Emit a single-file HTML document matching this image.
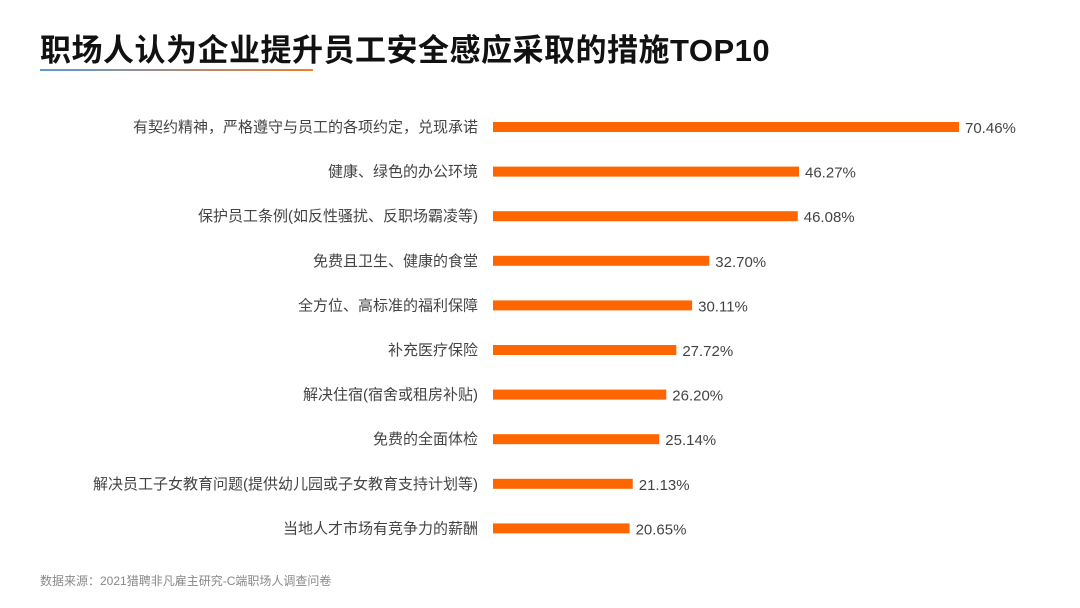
<!DOCTYPE html>
<html><head><meta charset="utf-8"><style>
body{margin:0;background:#fff;width:1080px;height:608px;overflow:hidden;font-family:"Liberation Sans","Noto Sans CJK SC",sans-serif}
#title{position:absolute;left:40px;top:25px;font-size:31px;font-weight:bold;color:#111;white-space:nowrap;letter-spacing:0.5px}
#uline{position:absolute;left:40px;top:69px;width:273px;height:2px;background:linear-gradient(90deg,#5b9bd5,#f07f2d)}
#src{position:absolute;left:40px;top:572px;font-size:12px;color:#888}
</style></head><body>
<div id="title">职场人认为企业提升员工安全感应采取的措施TOP10</div>
<div id="uline"></div>
<svg id="chart" width="1080" height="608" style="position:absolute;left:0;top:0"></svg>
<div id="src">数据来源：2021猎聘非凡雇主研究-C端职场人调查问卷</div>
<script>
const categories=["有契约精神，严格遵守与员工的各项约定，兑现承诺","健康、绿色的办公环境","保护员工条例(如反性骚扰、反职场霸凌等)","免费且卫生、健康的食堂","全方位、高标准的福利保障","补充医疗保险","解决住宿(宿舍或租房补贴)","免费的全面体检","解决员工子女教育问题(提供幼儿园或子女教育支持计划等)","当地人才市场有竞争力的薪酬"];
const values=[70.46,46.27,46.08,32.70,30.11,27.72,26.20,25.14,21.13,20.65];
const labels=["70.46%","46.27%","46.08%","32.70%","30.11%","27.72%","26.20%","25.14%","21.13%","20.65%"];
const NS="http://www.w3.org/2000/svg";
const svg=document.getElementById('chart');
const x0=493, scale=466/70.46;
const xw=v=>v*scale;
const yc=i=>127+i*44.6;
categories.forEach((c,i)=>{
  const y=yc(i);
  const t=document.createElementNS(NS,'text');
  
  
  t.setAttribute('x',478);t.setAttribute('y',y+5);t.setAttribute('text-anchor','end');
  t.setAttribute('font-size','15');t.setAttribute('fill','#444');t.textContent=c;svg.appendChild(t);
  const r=document.createElementNS(NS,'rect');
  
  
  r.setAttribute('x',x0);r.setAttribute('y',y-5);r.setAttribute('width',xw(values[i]));r.setAttribute('height',10);
  r.setAttribute('fill','#ff6600');svg.appendChild(r);
  const v=document.createElementNS(NS,'text');
  
  
  v.setAttribute('x',x0+xw(values[i])+6);v.setAttribute('y',y+6);
  v.setAttribute('font-size','15');v.setAttribute('fill','#444');v.textContent=labels[i];svg.appendChild(v);
});
</script>
</body></html>
